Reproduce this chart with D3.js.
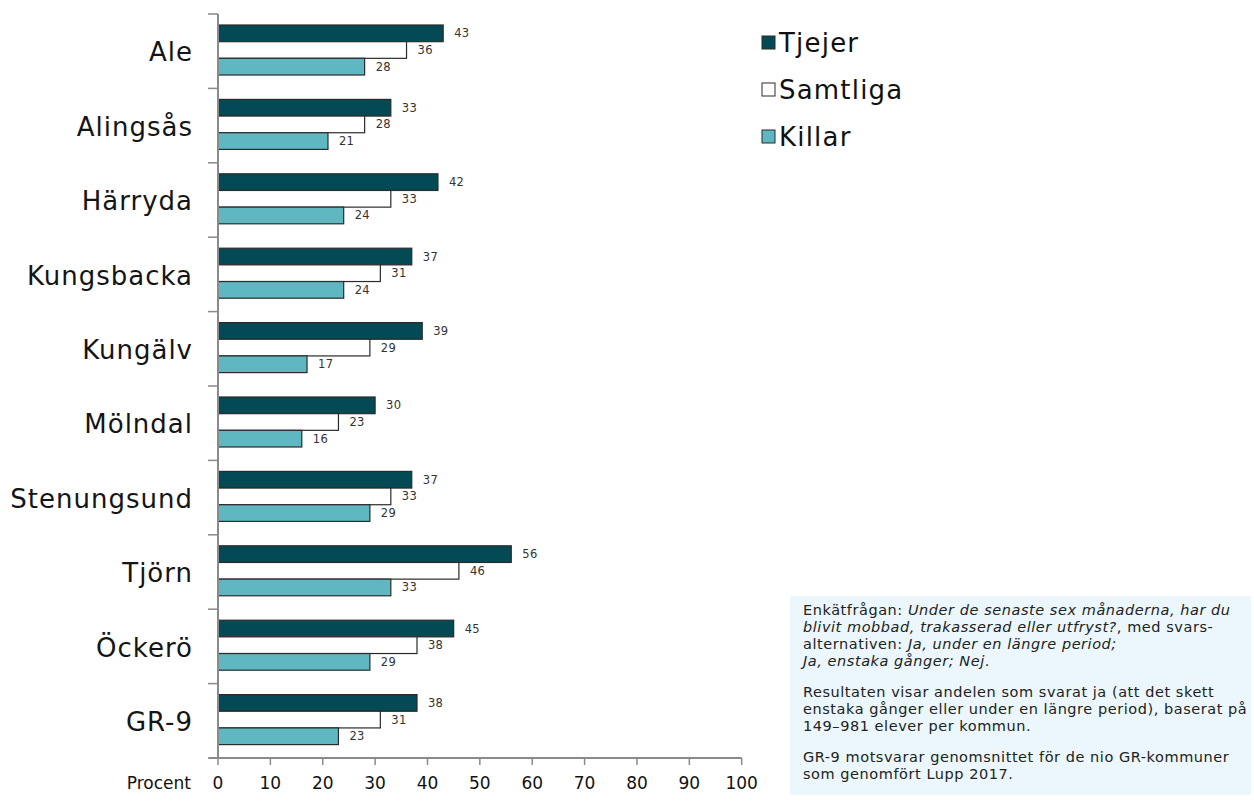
<!DOCTYPE html>
<html><head><meta charset="utf-8">
<script src="https://cdn.jsdelivr.net/npm/d3@7"></script>
<style>
html,body{margin:0;padding:0;background:#fff;}
svg{display:block;font-family:"DejaVu Sans",Verdana,sans-serif;}
</style></head>
<body>
<svg id="c" width="1254" height="807"></svg>
<script>
const categories = ["Ale","Alingsås","Härryda","Kungsbacka","Kungälv","Mölndal","Stenungsund","Tjörn","Öckerö","GR-9"];
const seriesNames = ["Tjejer","Samtliga","Killar"];
const tjejer   = [43,33,42,37,39,30,37,56,45,38];
const samtliga = [36,28,33,31,29,23,33,46,38,31];
const killar   = [28,21,24,24,17,16,29,33,29,23];
const xTicks = [0,10,20,30,40,50,60,70,80,90,100];
const colors = ["#034a55","#ffffff","#5fb8c1"];
const noteParas = [
  [["Enkätfrågan: ",false],["Under de senaste sex månaderna, har du",true],["\n",false],
   ["blivit mobbad, trakasserad eller utfryst?",true],[", med svars-",false],["\n",false],
   ["alternativen: ",false],["Ja, under en längre period;",true],["\n",false],
   ["Ja, enstaka gånger; Nej",true],[".",false]],
  [["Resultaten visar andelen som svarat ja (att det skett",false],["\n",false],
   ["enstaka gånger eller under en längre period), baserat på",false],["\n",false],
   ["149–981 elever per kommun.",false]],
  [["GR-9 motsvarar genomsnittet för de nio GR-kommuner",false],["\n",false],
   ["som genomfört Lupp 2017.",false]]
];

const data = categories.map((c,i)=>({cat:c, vals:[tjejer[i],samtliga[i],killar[i]]}));
const svg = d3.select("#c");

const x = d3.scaleLinear().domain([0,100]).range([218,741.7]);
const y = d3.scaleBand().domain(categories).range([14,758]).paddingInner(0).paddingOuter(0);
const inner = d3.scaleBand().domain(seriesNames).range([11, 61]);

// bars
const g = svg.append("g");
const grp = g.selectAll("g.cat").data(data).join("g")
  .attr("transform", d=>`translate(0,${y(d.cat)})`);
grp.selectAll("rect").data(d=>d.vals.map((v,j)=>({v,s:seriesNames[j],j}))).join("rect")
  .attr("x", x(0))
  .attr("y", d=>inner(d.s))
  .attr("width", d=>x(d.v)-x(0))
  .attr("height", inner.bandwidth())
  .attr("fill", d=>colors[d.j])
  .attr("stroke", "#2b2b2b")
  .attr("stroke-width", 1.2);
grp.selectAll("text").data(d=>d.vals.map((v,j)=>({v,s:seriesNames[j]}))).join("text")
  .attr("x", d=>x(d.v)+11)
  .attr("y", d=>inner(d.s)+inner.bandwidth()/2)
  .attr("dy","0.35em")
  .attr("font-size", 11.5)
  .attr("letter-spacing", 0.3)
  .attr("fill","#333")
  .text(d=>d.v);

// y axis
const axisColor = "#8a8a8a";
svg.append("line").attr("x1",x(0)).attr("x2",x(0)).attr("y1",14).attr("y2",758)
  .attr("stroke",axisColor).attr("stroke-width",2);
const yb = categories.map(c=>y(c)).concat([758]);
svg.selectAll("line.yt").data(yb).join("line").attr("class","yt")
  .attr("x1",208).attr("x2",x(0)).attr("y1",d=>d).attr("y2",d=>d)
  .attr("stroke",axisColor).attr("stroke-width",1.5);
svg.selectAll("text.cl").data(categories).join("text").attr("class","cl")
  .attr("x",193).attr("y",d=>y(d)+y.bandwidth()/2+1)
  .attr("dy","0.35em").attr("text-anchor","end")
  .attr("font-size",26).attr("letter-spacing",1).attr("fill","#151515").text(d=>d);

// x axis
svg.append("line").attr("x1",209).attr("x2",x(100)).attr("y1",758).attr("y2",758)
  .attr("stroke",axisColor).attr("stroke-width",2);
svg.selectAll("line.xt").data(xTicks).join("line").attr("class","xt")
  .attr("x1",d=>x(d)).attr("x2",d=>x(d)).attr("y1",758).attr("y2",765)
  .attr("stroke",axisColor).attr("stroke-width",1.5);
svg.selectAll("text.xl").data(xTicks).join("text").attr("class","xl")
  .attr("x",d=>x(d)).attr("y",783).attr("dy","0.35em").attr("text-anchor","middle")
  .attr("font-size",17).attr("fill","#111").text(d=>d);
svg.append("text").attr("x",191).attr("y",783).attr("dy","0.35em").attr("text-anchor","end")
  .attr("font-size",17).attr("fill","#111").text("Procent");

// legend
const leg = svg.selectAll("g.leg").data(seriesNames).join("g").attr("class","leg")
  .attr("transform",(d,i)=>`translate(762,${43+i*47})`);
leg.append("rect").attr("x",0).attr("y",-7).attr("width",13).attr("height",13)
  .attr("fill",(d,i)=>colors[i]).attr("stroke","#2b2b2b").attr("stroke-width",1);
leg.append("text").attr("x",17).attr("y",0).attr("dy","0.35em")
  .attr("font-size",26).attr("letter-spacing",1.2).attr("fill","#111").text(d=>d);

// note box
svg.append("rect").attr("x",790).attr("y",596).attr("width",461).attr("height",199)
  .attr("fill","#ebf7fc");
const note = svg.append("text").attr("font-size",14.5).attr("letter-spacing",0.55).attr("fill","#222");
let yy = 610, lineH = 17, paraGap = 14;
noteParas.forEach((para,pi)=>{
  let first = true;
  para.forEach(([t,it])=>{
    if(t==="\n"){ yy += lineH; first = true; return; }
    const ts = note.append("tspan").text(t).attr("font-style", it?"italic":"normal");
    if(first){ ts.attr("x",803).attr("y",yy).attr("dy","0.35em"); first=false; }
  });
  yy += lineH + paraGap;
});
</script>
</body></html>
